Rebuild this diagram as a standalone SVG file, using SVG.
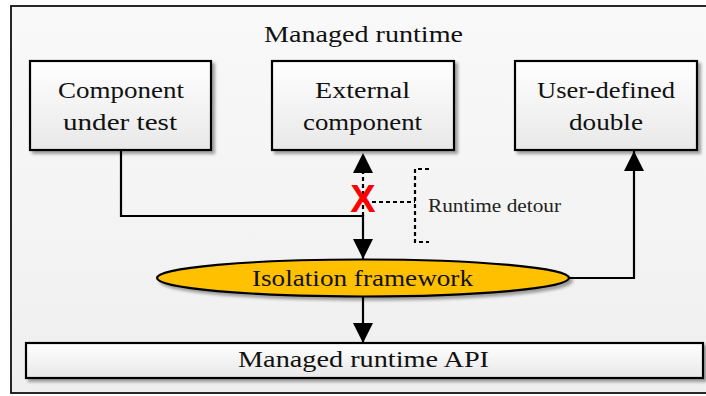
<svg xmlns="http://www.w3.org/2000/svg" width="706" height="396" viewBox="0 0 706 396">
  <defs>
    <linearGradient id="bg" x1="0" y1="0" x2="0" y2="1">
      <stop offset="0" stop-color="#f9f9f9"/>
      <stop offset="1" stop-color="#efefef"/>
    </linearGradient>
    <linearGradient id="boxFill" x1="0" y1="0" x2="0" y2="1">
      <stop offset="0" stop-color="#ffffff"/>
      <stop offset="1" stop-color="#e8e8e8"/>
    </linearGradient>
    <filter id="shadow" x="-10%" y="-10%" width="130%" height="140%">
      <feDropShadow dx="3" dy="3" stdDeviation="1.6" flood-color="#000" flood-opacity="0.35"/>
    </filter>
    <marker id="arrow" markerUnits="userSpaceOnUse" markerWidth="20" markerHeight="20" viewBox="0 0 20 20" refX="20" refY="10" orient="auto">
      <path d="M0,0 L20,10 L0,20 Z" fill="#000"/>
    </marker>
    <style>
      .box { fill: url(#boxFill); stroke: #000; stroke-width: 2.2; filter: url(#shadow); }
      .label { font-family: "Liberation Serif", "Times New Roman", serif; font-size: 23.5px; fill: #111; }
      .small { font-family: "Liberation Serif", "Times New Roman", serif; font-size: 18px; fill: #222; }
      .wire { fill: none; stroke: #000; stroke-width: 2.2; }
      .dash { fill: none; stroke: #000; stroke-width: 2.2; stroke-dasharray: 4 3; }
    </style>
  </defs>

  <!-- managed runtime container -->
  <g id="managed-runtime">
    <rect x="11" y="6" width="712" height="387" fill="url(#bg)" stroke="#111" stroke-width="1.8"/>
    <text class="label" x="264" y="42" textLength="199" lengthAdjust="spacingAndGlyphs">Managed runtime</text>
  </g>

  <g id="component-under-test">
    <rect class="box" x="30" y="61" width="181" height="89"/>
    <text class="label" x="58" y="98" textLength="126" lengthAdjust="spacingAndGlyphs">Component</text>
    <text class="label" x="63" y="130" textLength="114" lengthAdjust="spacingAndGlyphs">under test</text>
  </g>

  <g id="external-component">
    <rect class="box" x="272" y="61" width="182" height="89"/>
    <text class="label" x="315" y="98" textLength="95" lengthAdjust="spacingAndGlyphs">External</text>
    <text class="label" x="303" y="130" textLength="119" lengthAdjust="spacingAndGlyphs">component</text>
  </g>

  <g id="user-defined-double">
    <rect class="box" x="515" y="61" width="182" height="89"/>
    <text class="label" x="537" y="98" textLength="138" lengthAdjust="spacingAndGlyphs">User-defined</text>
    <text class="label" x="569" y="130" textLength="74" lengthAdjust="spacingAndGlyphs">double</text>
  </g>

  <g id="isolation-framework">
    <ellipse cx="363" cy="278" rx="206" ry="18.5" fill="#ffc000" stroke="#000" stroke-width="2.2" filter="url(#shadow)"/>
    <text class="label" x="252" y="286" textLength="221" lengthAdjust="spacingAndGlyphs">Isolation framework</text>
  </g>

  <g id="managed-runtime-api">
    <rect class="box" x="26" y="343" width="677" height="35"/>
    <text class="label" x="238" y="367" textLength="251" lengthAdjust="spacingAndGlyphs">Managed runtime API</text>
  </g>

  <g id="connectors">
    <!-- call from the component under test into the framework -->
    <path class="wire" d="M121,150 V216 H363 V259" marker-end="url(#arrow)"/>
    <!-- original call to the external component, intercepted -->
    <path class="dash" d="M363,216 V153" marker-end="url(#arrow)"/>
    <!-- framework redirects to the double -->
    <path class="wire" d="M569,278 H634 V151" marker-end="url(#arrow)"/>
    <!-- framework down to the runtime API -->
    <path class="wire" d="M363,297 V343" marker-end="url(#arrow)"/>
    <!-- detour annotation -->
    <path class="dash" d="M365,202 H415"/>
    <path class="dash" d="M429,169 H415 V242 H429"/>
    <text x="363" y="212" text-anchor="middle" font-family="Liberation Sans, Arial, sans-serif" font-weight="bold" font-size="38" fill="#ff0000">X</text>
    <text class="small" x="428" y="212" textLength="133" lengthAdjust="spacingAndGlyphs">Runtime detour</text>
  </g>
</svg>
